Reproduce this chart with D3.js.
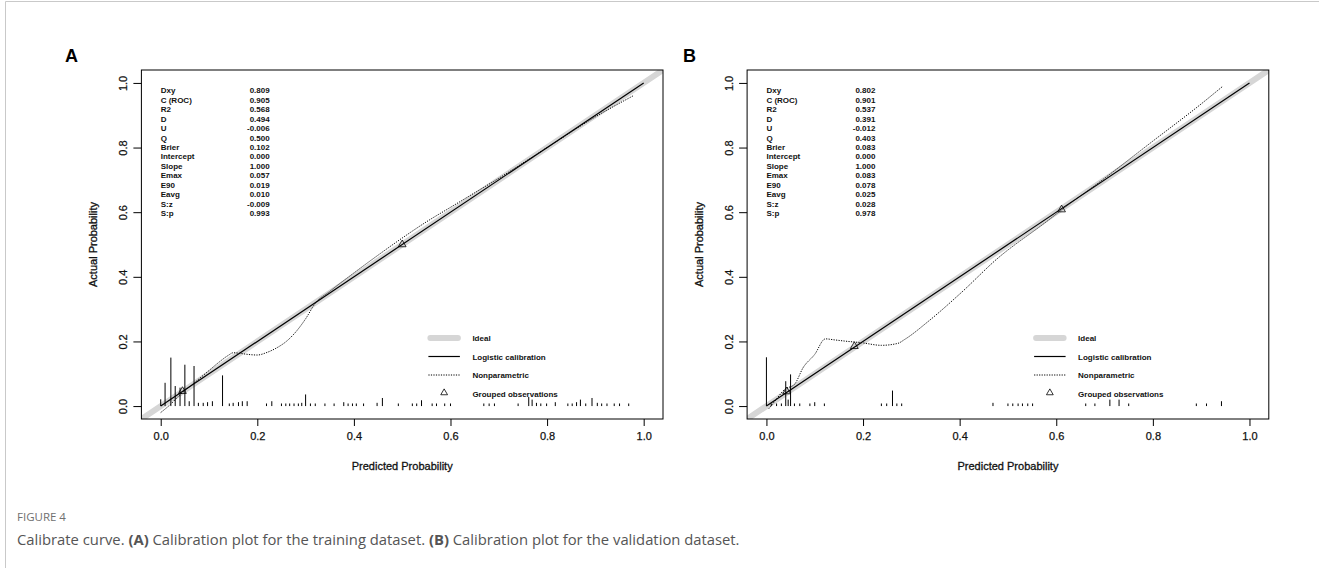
<!DOCTYPE html>
<html>
<head>
<meta charset="utf-8">
<script src="https://cdn.jsdelivr.net/npm/d3@7"></script>
<style>
  html, body { margin: 0; padding: 0; background: #fff; }
  svg { display: block; }
  .rt { font-family: "Liberation Sans", Arial, sans-serif; fill: #111; }
</style>
</head>
<body>
<svg id="chart" width="1319" height="568"></svg>
<script>
// ---------------- data ----------------
const tickValues = [0, 0.2, 0.4, 0.6, 0.8, 1.0];
const statLabels = ["Dxy","C (ROC)","R2","D","U","Q","Brier","Intercept","Slope","Emax","E90","Eavg","S:z","S:p"];
const statsA = ["0.809","0.905","0.568","0.494","-0.006","0.500","0.102","0.000","1.000","0.057","0.019","0.010","-0.009","0.993"];
const statsB = ["0.802","0.901","0.537","0.391","-0.012","0.403","0.083","0.000","1.000","0.083","0.078","0.025","0.028","0.978"];
const legendLabels = ["Ideal","Logistic calibration","Nonparametric","Grouped observations"];

// Panel A (training)
const logisticA_x = [0, 1];
const logisticA_y = [0, 1];
const npA_x = [0.0, 0.02, 0.04, 0.06, 0.08, 0.10, 0.12, 0.14, 0.15, 0.165, 0.18, 0.20, 0.22, 0.24, 0.26, 0.28, 0.30, 0.32, 0.35, 0.40, 0.45, 0.50, 0.55, 0.60, 0.65, 0.70, 0.80, 0.90, 0.978];
const npA_y = [-0.02, 0.005, 0.035, 0.06, 0.085, 0.11, 0.135, 0.157, 0.165, 0.163, 0.16, 0.158, 0.166, 0.18, 0.20, 0.23, 0.27, 0.318, 0.355, 0.412, 0.467, 0.52, 0.57, 0.615, 0.66, 0.705, 0.80, 0.895, 0.96];
const groupA_x = [0.045, 0.5];
const groupA_y = [0.046, 0.5];
const rugA_x = [0.000,0.009,0.021,0.030,0.040,0.050,0.059,0.069,0.078,0.088,0.097,0.107,0.128,0.142,0.150,0.161,0.169,0.179,0.219,0.230,0.250,0.259,0.267,0.276,0.285,0.292,0.300,0.310,0.320,0.340,0.359,0.379,0.388,0.397,0.405,0.420,0.448,0.459,0.492,0.521,0.530,0.540,0.562,0.571,0.588,0.600,0.669,0.680,0.691,0.740,0.762,0.769,0.778,0.787,0.799,0.817,0.843,0.852,0.861,0.869,0.880,0.893,0.904,0.913,0.924,0.939,0.950,0.969];
const rugA_h = [0.021,0.072,0.150,0.062,0.057,0.128,0.015,0.124,0.010,0.010,0.012,0.015,0.095,0.008,0.010,0.012,0.015,0.015,0.008,0.015,0.008,0.008,0.008,0.008,0.008,0.010,0.036,0.008,0.008,0.008,0.008,0.012,0.008,0.008,0.008,0.008,0.010,0.025,0.008,0.008,0.008,0.018,0.008,0.008,0.008,0.008,0.008,0.008,0.008,0.008,0.028,0.020,0.010,0.008,0.008,0.012,0.008,0.008,0.012,0.020,0.008,0.025,0.010,0.008,0.008,0.008,0.008,0.008];

// Panel B (validation)
const logisticB_x = [0, 1];
const logisticB_y = [0, 1];
const npB_x = [0.005, 0.02, 0.038, 0.058, 0.076, 0.10, 0.122, 0.14, 0.163, 0.197, 0.238, 0.272, 0.286, 0.335, 0.404, 0.477, 0.58, 0.611, 0.70, 0.80, 0.90, 0.945];
const npB_y = [-0.008, 0.02, 0.052, 0.067, 0.119, 0.16, 0.208, 0.205, 0.201, 0.196, 0.188, 0.194, 0.206, 0.262, 0.352, 0.455, 0.571, 0.607, 0.705, 0.82, 0.935, 0.99];
const groupB_x = [0.042, 0.182, 0.611];
const groupB_y = [0.045, 0.185, 0.608];
const rugB_x = [0.000,0.010,0.021,0.031,0.040,0.045,0.050,0.058,0.069,0.090,0.100,0.120,0.238,0.249,0.261,0.270,0.280,0.469,0.500,0.510,0.521,0.530,0.541,0.551,0.661,0.680,0.711,0.730,0.750,0.890,0.911,0.942];
const rugB_h = [0.151,0.008,0.008,0.008,0.077,0.020,0.098,0.008,0.008,0.008,0.012,0.008,0.008,0.008,0.048,0.008,0.008,0.010,0.008,0.008,0.008,0.008,0.008,0.008,0.008,0.008,0.020,0.020,0.008,0.008,0.008,0.015];

// ---------------- drawing ----------------
const svg = d3.select("#chart");
svg.append("rect").attr("width", 1319).attr("height", 568).attr("fill", "#fff");

// outer frame lines
svg.append("line").attr("x1", 5.5).attr("x2", 1319).attr("y1", 1.5).attr("y2", 1.5).attr("stroke", "#c9c9c9").attr("stroke-width", 1);
svg.append("line").attr("x1", 5.5).attr("x2", 5.5).attr("y1", 1.5).attr("y2", 568).attr("stroke", "#c9c9c9").attr("stroke-width", 1);

function drawPanel(p) {
  const x = d3.scaleLinear().domain([-0.04, 1.04]).range([p.left, p.right]);
  const y = d3.scaleLinear().domain([-0.04, 1.04]).range([419, 70]);
  const g = svg.append("g");
  const clipId = "clip" + p.letter;
  g.append("clipPath").attr("id", clipId).append("rect")
    .attr("x", p.left).attr("y", 70).attr("width", p.right - p.left).attr("height", 349);

  // panel letter
  svg.append("text").attr("x", p.letterX).attr("y", 62)
    .attr("font-family", "Liberation Sans, Arial, sans-serif").attr("font-weight", "bold")
    .attr("font-size", 18).attr("fill", "#000").text(p.letter);

  const plot = g.append("g").attr("clip-path", `url(#${clipId})`);

  // ideal line
  plot.append("line")
    .attr("x1", x(-0.04)).attr("y1", y(-0.04)).attr("x2", x(1.04)).attr("y2", y(1.04))
    .attr("stroke", "#d6d6d6").attr("stroke-width", 6).attr("stroke-linecap", "round");

  // rug / spike histogram
  plot.selectAll("line.rug").data(p.rugX.map((v, i) => [v, p.rugH[i]])).enter()
    .append("line").attr("class", "rug")
    .attr("x1", d => x(d[0])).attr("x2", d => x(d[0]))
    .attr("y1", y(0)).attr("y2", d => y(d[1]))
    .attr("stroke", "#000").attr("stroke-width", 1);

  // logistic calibration
  const lineGen = d3.line().x(d => x(d[0])).y(d => y(d[1]));
  plot.append("path").datum(p.logX.map((v, i) => [v, p.logY[i]]))
    .attr("d", lineGen).attr("fill", "none").attr("stroke", "#000").attr("stroke-width", 1.2);

  // nonparametric
  const smooth = d3.line().x(d => x(d[0])).y(d => y(d[1])).curve(d3.curveMonotoneX);
  plot.append("path").datum(p.npX.map((v, i) => [v, p.npY[i]]))
    .attr("d", smooth).attr("fill", "none").attr("stroke", "#000").attr("stroke-width", 1)
    .attr("stroke-dasharray", "1.2,1.3");

  // grouped observations
  const tri = d3.symbol().type(d3.symbolTriangle).size(26);
  plot.selectAll("path.grp").data(p.grpX.map((v, i) => [v, p.grpY[i]])).enter()
    .append("path").attr("class", "grp").attr("d", tri)
    .attr("transform", d => `translate(${x(d[0])},${y(d[1])})`)
    .attr("fill", "none").attr("stroke", "#000").attr("stroke-width", 0.8);

  // box
  g.append("rect").attr("x", p.left).attr("y", 70).attr("width", p.right - p.left).attr("height", 349)
    .attr("fill", "none").attr("stroke", "#000").attr("stroke-width", 1);

  // x axis
  const xa = g.append("g").attr("transform", "translate(0,419)")
    .call(d3.axisBottom(x).tickValues(tickValues).tickFormat(d3.format(".1f")).tickSize(7).tickPadding(6));
  xa.select(".domain").remove();
  xa.selectAll(".tick text").attr("font-size", 11).attr("font-family", "Liberation Sans, Arial, sans-serif")
    .attr("fill", "#111").attr("stroke", "#111").attr("stroke-width", 0.25);
  xa.selectAll(".tick line").attr("stroke", "#000");

  // y axis
  const ya = g.append("g").attr("transform", `translate(${p.left},0)`)
    .call(d3.axisLeft(y).tickValues(tickValues).tickFormat(d3.format(".1f")).tickSize(8));
  ya.select(".domain").remove();
  ya.selectAll(".tick line").attr("stroke", "#000");
  ya.selectAll(".tick text").attr("x", null).attr("dy", null)
    .attr("transform", "translate(-14.5,0) rotate(-90)").attr("text-anchor", "middle")
    .attr("font-size", 11).attr("font-family", "Liberation Sans, Arial, sans-serif")
    .attr("fill", "#111").attr("stroke", "#111").attr("stroke-width", 0.25);

  // axis titles
  g.append("text").attr("class", "rt").attr("x", (p.left + p.right) / 2).attr("y", 470)
    .attr("text-anchor", "middle").attr("font-size", 11)
    .attr("stroke", "#111").attr("stroke-width", 0.3).text("Predicted Probability");
  g.append("text").attr("class", "rt")
    .attr("transform", `translate(${p.left - 44},${y(0.5)}) rotate(-90)`)
    .attr("text-anchor", "middle").attr("font-size", 11)
    .attr("stroke", "#111").attr("stroke-width", 0.3).text("Actual Probability");

  // stats block
  const st = g.append("g");
  statLabels.forEach((lab, i) => {
    const yy = y(1) + 10.5 + i * 9.43;
    st.append("text").attr("class", "rt").attr("x", x(0)).attr("y", yy)
      .attr("font-size", 8).attr("font-weight", "bold").text(lab);
    st.append("text").attr("class", "rt").attr("x", x(0) + 109).attr("y", yy)
      .attr("text-anchor", "end").attr("font-size", 8).attr("font-weight", "bold").text(p.stats[i]);
  });

  // legend
  const lg = g.append("g");
  const lx0 = p.left + 287, lx1 = p.left + 318.5, tx = p.left + 331;
  const rows = [338, 356.5, 375, 393.8];
  lg.append("line").attr("x1", lx0 + 2).attr("x2", lx1 - 2).attr("y1", rows[0]).attr("y2", rows[0])
    .attr("stroke", "#d6d6d6").attr("stroke-width", 6).attr("stroke-linecap", "round");
  lg.append("line").attr("x1", lx0).attr("x2", lx1).attr("y1", rows[1]).attr("y2", rows[1])
    .attr("stroke", "#000").attr("stroke-width", 1.2);
  lg.append("line").attr("x1", lx0).attr("x2", lx1).attr("y1", rows[2]).attr("y2", rows[2])
    .attr("stroke", "#000").attr("stroke-width", 1).attr("stroke-dasharray", "1.2,1.3");
  lg.append("path").attr("d", d3.symbol().type(d3.symbolTriangle).size(20))
    .attr("transform", `translate(${(lx0 + lx1) / 2},${rows[3] - 1})`)
    .attr("fill", "none").attr("stroke", "#000").attr("stroke-width", 0.8);
  legendLabels.forEach((t, i) => {
    lg.append("text").attr("class", "rt").attr("x", tx).attr("y", rows[i] + 3)
      .attr("font-size", 8).attr("font-weight", "bold").text(t);
  });
}

drawPanel({ letter: "A", letterX: 65, left: 141.4, right: 663,
  stats: statsA, logX: logisticA_x, logY: logisticA_y, npX: npA_x, npY: npA_y,
  grpX: groupA_x, grpY: groupA_y, rugX: rugA_x, rugH: rugA_h });
drawPanel({ letter: "B", letterX: 683, left: 747.1, right: 1268.8,
  stats: statsB, logX: logisticB_x, logY: logisticB_y, npX: npB_x, npY: npB_y,
  grpX: groupB_x, grpY: groupB_y, rugX: rugB_x, rugH: rugB_h });

// caption
svg.append("text").attr("x", 17).attr("y", 521)
  .attr("font-family", "Open Sans, Noto Sans, sans-serif").attr("font-size", 11.5)
  .attr("fill", "#707070").text("FIGURE 4");
const cap = svg.append("text").attr("x", 17).attr("y", 545)
  .attr("font-family", "Open Sans, Noto Sans, sans-serif").attr("font-size", 14.8)
  .attr("fill", "#555");
const capParts = [["Calibrate curve. ", false], ["(A)", true], [" Calibration plot for the training dataset. ", false], ["(B)", true], [" Calibration plot for the validation dataset.", false]];
capParts.forEach(([t, b]) => cap.append("tspan").attr("font-weight", b ? "bold" : "normal").text(t));
</script>
</body>
</html>
